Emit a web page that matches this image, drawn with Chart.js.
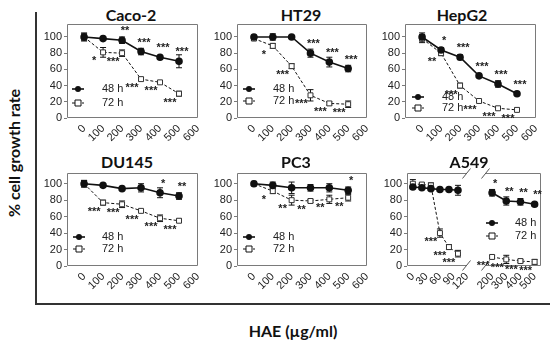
<!DOCTYPE html>
<html>
<head>
<meta charset="utf-8">
<script src="https://cdn.jsdelivr.net/npm/chart.js@4.4.1/dist/chart.umd.min.js"></script>
<style>
  body { margin: 0; background: #fff; }
  #wrap { position: relative; width: 550px; height: 342px; overflow: hidden; background: #fff; }
  #wrap canvas { position: absolute; }
  .ttl { position: absolute; font: bold 16px Lato, "Open Sans", sans-serif; color: #111; transform: translate(-50%, -50%); white-space: nowrap; }
  .vline { position: absolute; left: 35px; top: 12px; width: 2px; height: 292px; background: #333; }
  .hline { position: absolute; left: 35px; top: 303px; width: 515px; height: 2px; background: #333; }
</style>
</head>
<body>
<div id="wrap">
  <div class="vline"></div>
  <div class="hline"></div>
  <div class="ttl" style="left:13px;top:153px;transform:translate(-50%,-50%) rotate(-90deg)">% cell growth rate</div>
  <div class="ttl" style="left:293px;top:330px">HAE (µg/ml)</div>
</div>
<script>
// doses and ticks
const doses = [0, 100, 200, 300, 400, 500];
const xTicks = [0, 100, 200, 300, 400, 500, 600];
const yTicks = [0, 20, 40, 60, 80, 100];
const a549DosesLow = [0, 20, 40, 60, 80, 100];
const a549DosesHigh = [200, 300, 400, 500];
const a549TicksLow = [0, 30, 60, 90, 120];
const a549TicksHigh = [200, 300, 400, 500];

// Caco-2
const caco2_48 = [100, 98, 96, 82, 75, 70];
const caco2_48_err = [5, 2, 4, 4, 2, 8];
const caco2_48_sig = ["", "", "**", "***", "***", "***"];
const caco2_72 = [100, 81, 80, 48, 44, 30];
const caco2_72_err = [4, 6, 4, 2, 1, 3];
const caco2_72_sig = ["", "*", "***", "***", "***", "***"];

// HT29
const ht29_48 = [100, 100, 100, 80, 69, 61];
const ht29_48_err = [1, 4, 1, 5, 6, 4];
const ht29_48_sig = ["", "", "", "***", "***", "***"];
const ht29_72 = [98, 89, 64, 28, 18, 17];
const ht29_72_err = [2, 3, 3, 7, 2, 4];
const ht29_72_sig = ["", "*", "***", "***", "***", "***"];

// HepG2
const hepg2_48 = [100, 84, 75, 52, 42, 30];
const hepg2_48_err = [5, 3, 3, 2, 4, 2];
const hepg2_48_sig = ["", "*", "***", "***", "***", "***"];
const hepg2_72 = [98, 80, 40, 21, 12, 10];
const hepg2_72_err = [5, 3, 3, 1, 1, 2];
const hepg2_72_sig = ["", "**", "***", "***", "***", "***"];

// DU145
const du145_48 = [100, 98, 94, 95, 89, 85];
const du145_48_err = [4, 2, 1, 5, 6, 4];
const du145_48_sig = ["", "", "", "", "*", "**"];
const du145_72 = [100, 77, 75, 67, 58, 55];
const du145_72_err = [4, 3, 4, 1, 4, 2];
const du145_72_sig = ["", "***", "***", "***", "***", "***"];

// PC3
const pc3_48 = [100, 98, 95, 95, 95, 92];
const pc3_48_err = [2, 4, 7, 4, 5, 4];
const pc3_48_sig = ["", "", "", "", "", "*"];
const pc3_72 = [100, 91, 80, 79, 81, 83];
const pc3_72_err = [2, 3, 6, 2, 5, 4];
const pc3_72_sig = ["", "*", "**", "**", "**", "**"];

// A549 (broken axis: low and high dose parts)
const a549Low_48 = [96, 95, 94, 93, 93, 92];
const a549Low_48_err = [2, 2, 2, 2, 2, 6];
const a549Low_48_sig = ["", "", "", "", "", ""];
const a549Low_72 = [100, 99, 98, 40, 23, 15];
const a549Low_72_err = [5, 2, 3, 5, 3, 4];
const a549Low_72_sig = ["", "", "", "***", "***", "***"];
const a549High_48 = [89, 79, 78, 75];
const a549High_48_err = [4, 5, 4, 2];
const a549High_48_sig = ["*", "**", "**", "**"];
const a549High_72 = [11, 8, 6, 5];
const a549High_72_err = [2, 5, 2, 3];
const a549High_72_sig = ["***", "***", "***", "***"];

Chart.defaults.font.family = "'Liberation Sans', Arial, sans-serif";
Chart.defaults.font.size = 11;
Chart.defaults.color = "#222";

const wrap = document.getElementById("wrap");

// frame, error bars, stars, legend, axis break marks
const panelDecor = {
  id: "panelDecor",
  beforeDatasetsDraw(chart) {
    const c = chart.ctx;
    const xs = chart.scales.x, ys = chart.scales.y;
    c.save();
    c.strokeStyle = "#111";
    c.lineWidth = 1;
    chart.data.datasets.forEach((ds) => {
      ds.data.forEach((p, i) => {
        const e = ds.errs[i];
        if (!e) return;
        const px = xs.getPixelForValue(p.x);
        const y1 = ys.getPixelForValue(p.y + e);
        const y2 = ys.getPixelForValue(p.y - e);
        c.beginPath();
        c.moveTo(px, y1); c.lineTo(px, y2);
        c.moveTo(px - 3, y1); c.lineTo(px + 3, y1);
        c.moveTo(px - 3, y2); c.lineTo(px + 3, y2);
        c.stroke();
      });
    });
    c.restore();
  },
  afterDraw(chart, args, opts) {
    const c = chart.ctx;
    const a = chart.chartArea;
    const xs = chart.scales.x, ys = chart.scales.y;
    c.save();
    // frame
    c.strokeStyle = "#7a7a7a";
    c.lineWidth = 1;
    c.beginPath();
    const sides = opts.sides || "ltrb";
    const L = Math.round(a.left) + 0.5, R = Math.round(a.right) - 0.5;
    const T = Math.round(a.top) + 0.5, B = Math.round(a.bottom) - 0.5;
    if (sides.includes("l")) { c.moveTo(L, T); c.lineTo(L, B); }
    if (sides.includes("r")) { c.moveTo(R, T); c.lineTo(R, B); }
    if (sides.includes("t")) { c.moveTo(L, T); c.lineTo(R, T); }
    if (sides.includes("b")) { c.moveTo(L, B); c.lineTo(R, B); }
    c.stroke();
    // break marks
    if (opts.breakAt) {
      const bx = opts.breakAt === "right" ? R : L;
      c.strokeStyle = "#555";
      c.beginPath();
      [T, B].forEach((by) => {
        c.moveTo(bx - 4, by + 5);
        c.lineTo(bx + 4, by - 5);
      });
      c.stroke();
    }
    // significance stars
    c.fillStyle = "#222";
    c.font = "bold 11px 'Liberation Sans', Arial, sans-serif";
    c.textAlign = "center";
    c.textBaseline = "middle";
    chart.data.datasets.forEach((ds) => {
      ds.data.forEach((p, i) => {
        const s = ds.sigs[i];
        if (!s) return;
        const px = xs.getPixelForValue(p.x);
        const py = ys.getPixelForValue(p.y);
        if (ds.kind === "48") c.fillText(s, px + 3, py - 9);
        else c.fillText(s, px - 9, py + 9);
      });
    });
    // legend
    if (opts.legend) {
      const lg = opts.legend;
      c.font = "11px 'Liberation Sans', Arial, sans-serif";
      c.textAlign = "left";
      chart.data.datasets.forEach((ds, k) => {
        const y = a.top + lg.y[k];
        const x0 = a.left + lg.x, x1 = x0 + 12, xm = (x0 + x1) / 2;
        c.strokeStyle = "#111";
        c.lineWidth = ds.borderWidth;
        c.setLineDash(ds.borderDash || []);
        c.beginPath(); c.moveTo(x0, y); c.lineTo(x1, y); c.stroke();
        c.setLineDash([]);
        c.lineWidth = 1;
        c.beginPath();
        if (ds.kind === "48") {
          c.fillStyle = "#111";
          c.arc(xm, y, 3, 0, Math.PI * 2);
          c.fill();
        } else {
          c.fillStyle = "#fff";
          c.rect(xm - 3, y - 3, 6, 6);
          c.fill(); c.stroke();
        }
        c.fillStyle = "#222";
        c.fillText(ds.label, a.left + lg.tx, y);
      });
    }
    c.restore();
  },
};

function series(xv, vals, errs, sigs, kind) {
  const base = {
    data: xv.map((d, i) => ({ x: d, y: vals[i] })),
    errs: errs,
    sigs: sigs,
    kind: kind,
    borderColor: "#111",
  };
  if (kind === "48") {
    return Object.assign(base, {
      label: "48 h", borderWidth: 1.6, pointStyle: "circle", pointRadius: 3,
      pointBackgroundColor: "#111", pointBorderColor: "#111",
    });
  }
  return Object.assign(base, {
    label: "72 h", borderWidth: 1, borderDash: [3, 2], pointStyle: "rect", pointRadius: 3.5,
    pointBackgroundColor: "#fff", pointBorderColor: "#333", pointBorderWidth: 1,
  });
}

function panel(cfg) {
  if (cfg.title) {
    const t = document.createElement("div");
    t.className = "ttl";
    t.textContent = cfg.title;
    t.style.left = cfg.titleX + "px";
    t.style.top = cfg.titleY + "px";
    wrap.appendChild(t);
  }
  const padL = cfg.padL, padR = 16, padT = 24, axH = 30;
  const cv = document.createElement("canvas");
  const w = cfg.r - cfg.l + padL + padR;
  const h = cfg.b - cfg.t + padT + axH;
  cv.width = w; cv.height = h;
  cv.style.left = (cfg.l - padL) + "px";
  cv.style.top = (cfg.t - padT) + "px";
  wrap.appendChild(cv);
  new Chart(cv, {
    type: "line",
    data: { datasets: cfg.datasets },
    options: {
      responsive: false,
      animation: false,
      layout: { padding: { left: cfg.yAxis ? 0 : padL, right: padR, top: padT, bottom: 0 } },
      plugins: {
        legend: { display: false },
        tooltip: { enabled: false },
        panelDecor: { sides: cfg.sides, breakAt: cfg.breakAt, legend: cfg.legend },
      },
      scales: {
        x: {
          type: "linear",
          min: cfg.xMin, max: cfg.xMax,
          afterBuildTicks: (s) => { s.ticks = cfg.xTicks.map((v) => ({ value: v })); },
          afterFit: (s) => { s.height = axH; },
          grid: { display: false, drawTicks: false },
          border: { display: false },
          ticks: { minRotation: 45, maxRotation: 45, padding: 4, autoSkip: false, color: "#222" },
        },
        y: {
          display: cfg.yAxis,
          min: 0, max: cfg.yMax,
          afterBuildTicks: (s) => { s.ticks = yTicks.map((v) => ({ value: v })); },
          afterFit: (s) => { s.width = padL; },
          grid: { display: true, drawOnChartArea: false, drawTicks: true, tickLength: 3, color: "#7a7a7a" },
          border: { display: false },
          ticks: { padding: 2, color: "#222" },
        },
      },
    },
    plugins: [panelDecor],
  });
}

const topRow = { t: 24, b: 118, yMax: 116 };
const botRow = { t: 173, b: 266, yMax: 113 };

panel(Object.assign({}, topRow, {
  title: "Caco-2", titleX: 131, titleY: 14, l: 67, r: 198, padL: 32, yAxis: true,
  xMin: -90, xMax: 600, xTicks: xTicks,
  legend: { x: 5, tx: 35, y: [65, 79] },
  datasets: [series(doses, caco2_48, caco2_48_err, caco2_48_sig, "48"),
             series(doses, caco2_72, caco2_72_err, caco2_72_sig, "72")],
}));
panel(Object.assign({}, topRow, {
  title: "HT29", titleX: 301, titleY: 14, l: 237, r: 367, padL: 32, yAxis: true,
  xMin: -90, xMax: 600, xTicks: xTicks,
  legend: { x: 6, tx: 36, y: [65, 77] },
  datasets: [series(doses, ht29_48, ht29_48_err, ht29_48_sig, "48"),
             series(doses, ht29_72, ht29_72_err, ht29_72_sig, "72")],
}));
panel(Object.assign({}, topRow, {
  title: "HepG2", titleX: 462, titleY: 14, l: 405, r: 536, padL: 32, yAxis: true,
  xMin: -90, xMax: 600, xTicks: xTicks,
  legend: { x: 7, tx: 37, y: [73, 84] },
  datasets: [series(doses, hepg2_48, hepg2_48_err, hepg2_48_sig, "48"),
             series(doses, hepg2_72, hepg2_72_err, hepg2_72_sig, "72")],
}));
panel(Object.assign({}, botRow, {
  title: "DU145", titleX: 127, titleY: 161, l: 67, r: 198, padL: 32, yAxis: true,
  xMin: -90, xMax: 600, xTicks: xTicks,
  legend: { x: 6, tx: 35, y: [64, 76] },
  datasets: [series(doses, du145_48, du145_48_err, du145_48_sig, "48"),
             series(doses, du145_72, du145_72_err, du145_72_sig, "72")],
}));
panel(Object.assign({}, botRow, {
  title: "PC3", titleX: 296, titleY: 161, l: 237, r: 367, padL: 32, yAxis: true,
  xMin: -90, xMax: 600, xTicks: xTicks,
  legend: { x: 6, tx: 36, y: [64, 76] },
  datasets: [series(doses, pc3_48, pc3_48_err, pc3_48_sig, "48"),
             series(doses, pc3_72, pc3_72_err, pc3_72_sig, "72")],
}));
panel(Object.assign({}, botRow, {
  title: "A549", titleX: 469, titleY: 161, l: 407, r: 467, padL: 32, yAxis: true,
  xMin: -13, xMax: 120, xTicks: a549TicksLow, sides: "ltb", breakAt: "right",
  datasets: [series(a549DosesLow, a549Low_48, a549Low_48_err, a549Low_48_sig, "48"),
             series(a549DosesLow, a549Low_72, a549Low_72_err, a549Low_72_sig, "72")],
}));
panel(Object.assign({}, botRow, {
  l: 477, r: 541, padL: 8, yAxis: false,
  xMin: 150, xMax: 545, xTicks: a549TicksHigh, sides: "trb", breakAt: "left",
  legend: { x: 1, tx: 30, y: [50, 63] },
  datasets: [series(a549DosesHigh, a549High_48, a549High_48_err, a549High_48_sig, "48"),
             series(a549DosesHigh, a549High_72, a549High_72_err, a549High_72_sig, "72")],
}));
</script>
</body>
</html>
